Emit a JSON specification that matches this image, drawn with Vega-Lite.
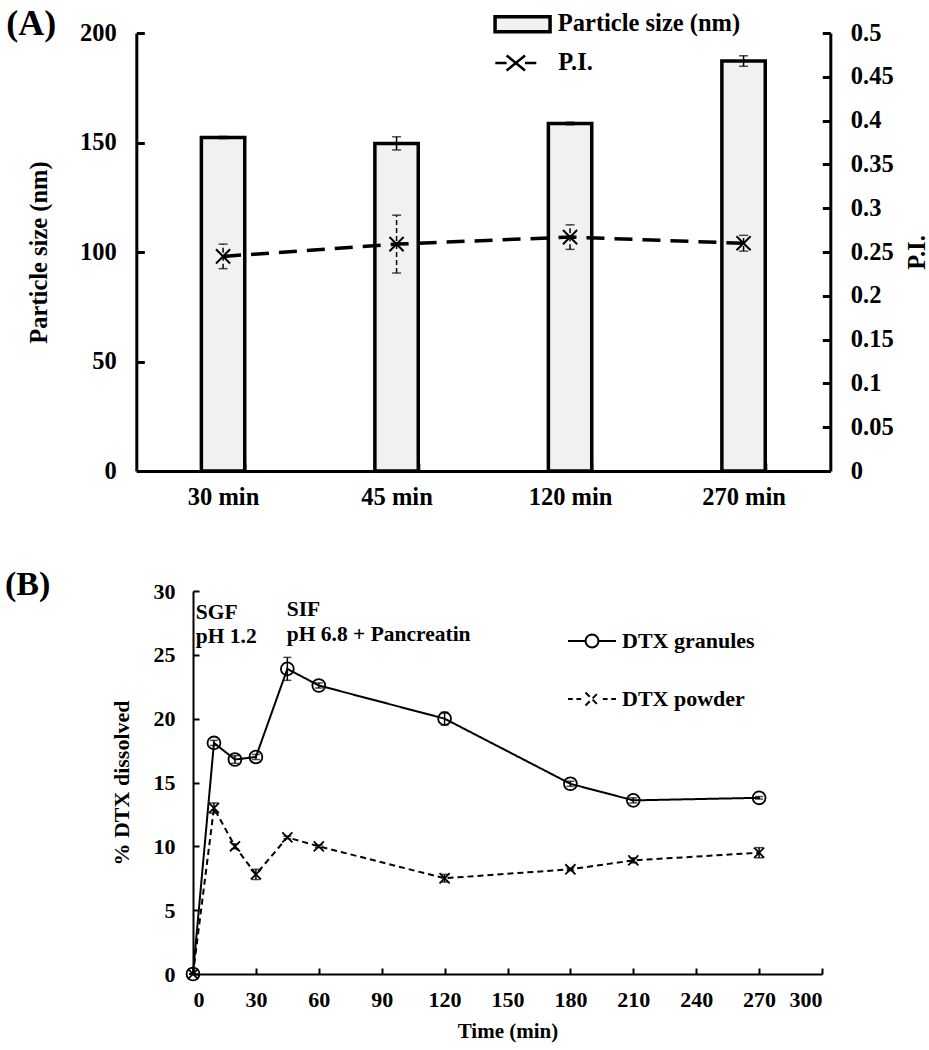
{
  "$schema": "https://vega.github.io/schema/vega-lite/v6.json",
  "padding": {"left": 5, "top": 5, "right": 0, "bottom": 5},
  "background": "white",
  "center": true,
  "spacing": 59,
  "resolve": {
    "scale": {"fill": "independent", "stroke": "independent", "strokeDash": "independent", "shape": "independent"},
    "legend": {"fill": "independent", "stroke": "independent", "strokeDash": "independent", "shape": "independent"}
  },
  "config": {
    "font": "Liberation Serif",
    "view": {"stroke": null},
    "axis": {
      "grid": false,
      "ticks": true,
      "labelFont": "Liberation Serif",
      "titleFont": "Liberation Serif",
      "labelFontWeight": "bold",
      "titleFontWeight": "bold",
      "labelColor": "black",
      "titleColor": "black",
      "domainColor": "black",
      "tickColor": "black"
    },
    "legend": {
      "labelFont": "Liberation Serif",
      "labelFontWeight": "bold",
      "labelColor": "black",
      "labelLimit": 400
    },
    "title": {"font": "Liberation Serif", "fontWeight": "bold", "color": "black"}
  },
  "vconcat": [
    {
      "title": {"text": "(A)", "anchor": "start", "frame": "group", "dx": -130, "fontSize": 36, "offset": -34},
      "width": 694,
      "height": 438,
      "data": {
        "values": [
          {"time": "30 min", "size": 152.3, "sizeErr": 0.5, "pi": 0.245, "piErr": 0.014},
          {"time": "45 min", "size": 149.6, "sizeErr": 3.0, "pi": 0.259, "piErr": 0.033},
          {"time": "120 min", "size": 158.7, "sizeErr": 0.6, "pi": 0.267, "piErr": 0.014},
          {"time": "270 min", "size": 187.2, "sizeErr": 2.4, "pi": 0.260, "piErr": 0.009}
        ]
      },
      "layer": [
        {
          "layer": [
            {
              "mark": {"type": "bar", "stroke": "black", "strokeWidth": 3.5},
              "encoding": {
                "x": {
                  "field": "time", "type": "nominal", "sort": null,
                  "scale": {"paddingInner": 0.75, "paddingOuter": 0.375},
                  "axis": {
                    "title": null, "labelAngle": 0, "labelFontSize": 24.5,
                    "domainWidth": 3, "ticks": true, "tickBand": "extent", "tickSize": -8,
                    "tickWidth": 3, "labelPadding": 22
                  }
                },
                "y": {
                  "field": "size", "type": "quantitative",
                  "scale": {"domain": [0, 200]},
                  "title": "Particle size (nm)",
                  "axis": {
                    "titleFontSize": 24.5,
                    "values": [0, 50, 100, 150, 200], "labelFontSize": 24.5,
                    "domainWidth": 3, "tickSize": -8, "tickWidth": 3,
                    "labelPadding": 28, "titlePadding": 28
                  }
                },
                "fill": {
                  "datum": "Particle size (nm)",
                  "scale": {"range": ["#f1f1f1"]},
                  "legend": {
                    "title": null, "orient": "none", "legendX": 370.75, "legendY": -24.25,
                    "symbolType": "M-2,-0.545L2,-0.545L2,0.545L-2,0.545Z", "symbolSize": 756,
                    "symbolStrokeColor": "black", "symbolStrokeWidth": 3.5,
                    "labelFontSize": 24.5, "labelOffset": 19.75, "labelLimit": 400
                  }
                }
              }
            },
            {
              "mark": {"type": "errorbar", "ticks": {"size": 9}, "color": "black", "thickness": 1.5},
              "encoding": {
                "x": {"field": "time", "type": "nominal", "sort": null},
                "y": {"field": "size", "type": "quantitative", "title": "Particle size (nm)"},
                "yError": {"field": "sizeErr"}
              }
            }
          ]
        },
        {
          "layer": [
            {
              "mark": {"type": "line", "strokeWidth": 3.5, "strokeDash": [18, 10]},
              "encoding": {
                "x": {"field": "time", "type": "nominal", "sort": null},
                "y": {
                  "field": "pi", "type": "quantitative",
                  "scale": {"domain": [0, 0.5]},
                  "title": "P.I.",
                  "axis": {
                    "orient": "right", "titleAngle": -90, "titleBaseline": "top",
                    "titleFontSize": 24.5, "format": "~g",
                    "values": [0, 0.05, 0.1, 0.15, 0.2, 0.25, 0.3, 0.35, 0.4, 0.45, 0.5],
                    "labelFontSize": 24.5, "domainWidth": 3, "tickSize": -8, "tickWidth": 3,
                    "labelPadding": 28, "titlePadding": 12
                  }
                },
                "stroke": {
                  "datum": "P.I.",
                  "scale": {"range": ["black"]},
                  "legend": {
                    "title": null, "orient": "none", "legendX": 367.25, "legendY": 17.75,
                    "symbolType": "M-2,0L-0.9,0M0.9,0L2,0M-0.9,-0.74L0.9,0.74M-0.9,0.74L0.9,-0.74",
                    "symbolSize": 420, "symbolStrokeColor": "black", "symbolStrokeWidth": 2.5,
                    "symbolFillColor": "transparent", "symbolDash": [],
                    "labelFontSize": 24.5, "labelOffset": 30.25
                  }
                }
              }
            },
            {
              "mark": {"type": "errorbar", "ticks": {"size": 9}, "color": "black", "thickness": 1.5, "rule": {"strokeDash": [5, 3]}},
              "encoding": {
                "x": {"field": "time", "type": "nominal", "sort": null},
                "y": {"field": "pi", "type": "quantitative", "title": "P.I."},
                "yError": {"field": "piErr"}
              }
            },
            {
              "mark": {"type": "point", "shape": "M-1,-1L1,1M-1,1L1,-1", "size": 200, "color": "black", "strokeWidth": 2, "filled": false, "opacity": 1},
              "encoding": {
                "x": {"field": "time", "type": "nominal", "sort": null},
                "y": {"field": "pi", "type": "quantitative", "title": "P.I."}
              }
            }
          ]
        }
      ],
      "resolve": {"scale": {"y": "independent"}}
    },
    {
      "title": {"text": "(B)", "anchor": "start", "frame": "group", "dx": -188, "fontSize": 34, "offset": -22},
      "width": 629,
      "height": 383,
      "layer": [
        {
          "mark": {"type": "rule", "color": "#999999", "strokeWidth": 4, "strokeDash": [4, 3]},
          "encoding": {"x": {"datum": 30, "type": "quantitative", "scale": {"domain": [0, 300]}}}
        },
        {
          "data": {
            "values": [
              {"time": 1.3, "pct": 27.8, "label": "SGF"},
              {"time": 1.3, "pct": 25.95, "label": "pH 1.2"},
              {"time": 44.7, "pct": 28.05, "label": "SIF"},
              {"time": 44.7, "pct": 26.05, "label": "pH 6.8 + Pancreatin"}
            ]
          },
          "mark": {"type": "text", "align": "left", "baseline": "alphabetic", "fontSize": 21.5, "fontWeight": "bold", "font": "Liberation Serif", "color": "black"},
          "encoding": {
            "x": {"field": "time", "type": "quantitative", "title": "Time (min)"},
            "y": {
              "field": "pct", "type": "quantitative", "title": null,
              "axis": {"orient": "right", "domain": false, "ticks": false, "labels": false, "title": null, "minExtent": 50, "maxExtent": 50}
            },
            "text": {"field": "label"}
          }
        },
        {
          "data": {"name": "diss"},
          "layer": [
            {
              "mark": {"type": "line", "color": "black", "strokeWidth": 2},
              "encoding": {
                "x": {
                  "field": "time", "type": "quantitative",
                  "scale": {"domain": [0, 300]},
                  "title": "Time (min)",
                  "axis": {
                    "titleFontSize": 21,
                    "values": [0, 30, 60, 90, 120, 150, 180, 210, 240, 270, 300],
                    "labelFontSize": 22, "domainWidth": 2, "tickSize": -6, "tickWidth": 2,
                    "labelPadding": 21, "titlePadding": 10
                  }
                },
                "y": {
                  "field": "pct", "type": "quantitative",
                  "scale": {"domain": [0, 30]},
                  "title": "% DTX dissolved",
                  "axis": {
                    "titleFontSize": 22,
                    "values": [0, 5, 10, 15, 20, 25, 30],
                    "labelFontSize": 22, "domainWidth": 2, "tickSize": -6, "tickWidth": 2,
                    "labelPadding": 24, "titlePadding": 20
                  }
                },
                "strokeDash": {
                  "field": "series", "type": "nominal",
                  "scale": {"domain": ["DTX granules", "DTX powder"], "range": [[1, 0], [6, 4]]},
                  "legend": {
                    "title": null, "orient": "none", "legendX": 374, "legendY": 25,
                    "symbolSize": 2304, "rowPadding": 22, "labelFontSize": 22, "labelOffset": 5,
                    "symbolStrokeColor": "black", "symbolStrokeWidth": 2, "symbolFillColor": "transparent",
                    "encode": {
                      "symbols": {
                        "update": {
                          "shape": {"signal": "datum.value === 'DTX granules' ? 'M-1,0L-0.27,0M0.27,0L1,0M0.27,0L0.2494,0.1033L0.1909,0.1909L0.1033,0.2494L0,0.27L-0.1033,0.2494L-0.1909,0.1909L-0.2494,0.1033L-0.27,0L-0.2494,-0.1033L-0.1909,-0.1909L-0.1033,-0.2494L0,-0.27L0.1033,-0.2494L0.1909,-0.1909L0.2494,-0.1033Z' : 'M-1,0L-0.8,0M-0.65,0L-0.45,0M0.45,0L0.65,0M0.8,0L1,0M-0.27,-0.27L0.27,0.27M-0.27,0.27L0.27,-0.27'"},
                          "strokeDash": {"value": []}
                        }
                      }
                    }
                  }
                }
              }
            },
            {
              "mark": {"type": "errorbar", "ticks": {"size": 8}, "color": "black", "thickness": 1.5},
              "encoding": {
                "x": {"field": "time", "type": "quantitative", "title": "Time (min)"},
                "y": {"field": "pct", "type": "quantitative", "title": "% DTX dissolved"},
                "yError": {"field": "err"}
              }
            },
            {
              "transform": [{"filter": "datum.series === 'DTX granules'"}],
              "mark": {"type": "point", "shape": "circle", "filled": false, "color": "black", "strokeWidth": 1.8, "size": 165, "opacity": 1},
              "encoding": {
                "x": {"field": "time", "type": "quantitative", "title": "Time (min)"},
                "y": {"field": "pct", "type": "quantitative", "title": "% DTX dissolved"}
              }
            },
            {
              "transform": [{"filter": "datum.series === 'DTX powder'"}],
              "mark": {"type": "point", "shape": "M-0.8,-0.8L0.8,0.8M-0.8,0.8L0.8,-0.8", "filled": false, "color": "black", "strokeWidth": 1.8, "size": 160, "opacity": 1},
              "encoding": {
                "x": {"field": "time", "type": "quantitative", "title": "Time (min)"},
                "y": {"field": "pct", "type": "quantitative", "title": "% DTX dissolved"}
              }
            }
          ]
        }
      ],
      "resolve": {"axis": {"y": "independent"}}
    }
  ],
  "datasets": {
    "diss": [
      {"series": "DTX granules", "time": 0, "pct": 0, "err": 0},
      {"series": "DTX granules", "time": 10, "pct": 18.1, "err": 0.2},
      {"series": "DTX granules", "time": 20, "pct": 16.8, "err": 0.3},
      {"series": "DTX granules", "time": 30, "pct": 17.0, "err": 0.2},
      {"series": "DTX granules", "time": 45, "pct": 23.9, "err": 0.9},
      {"series": "DTX granules", "time": 60, "pct": 22.6, "err": 0.2},
      {"series": "DTX granules", "time": 120, "pct": 20.0, "err": 0.5},
      {"series": "DTX granules", "time": 180, "pct": 14.9, "err": 0.2},
      {"series": "DTX granules", "time": 210, "pct": 13.6, "err": 0.2},
      {"series": "DTX granules", "time": 270, "pct": 13.8, "err": 0.1},
      {"series": "DTX powder", "time": 0, "pct": 0, "err": 0},
      {"series": "DTX powder", "time": 10, "pct": 13.0, "err": 0.4},
      {"series": "DTX powder", "time": 20, "pct": 10.0, "err": 0.2},
      {"series": "DTX powder", "time": 30, "pct": 7.8, "err": 0.4},
      {"series": "DTX powder", "time": 45, "pct": 10.7, "err": 0.1},
      {"series": "DTX powder", "time": 60, "pct": 10.0, "err": 0.1},
      {"series": "DTX powder", "time": 120, "pct": 7.5, "err": 0.3},
      {"series": "DTX powder", "time": 180, "pct": 8.2, "err": 0.1},
      {"series": "DTX powder", "time": 210, "pct": 8.9, "err": 0.2},
      {"series": "DTX powder", "time": 270, "pct": 9.5, "err": 0.4}
    ]
  }
}
